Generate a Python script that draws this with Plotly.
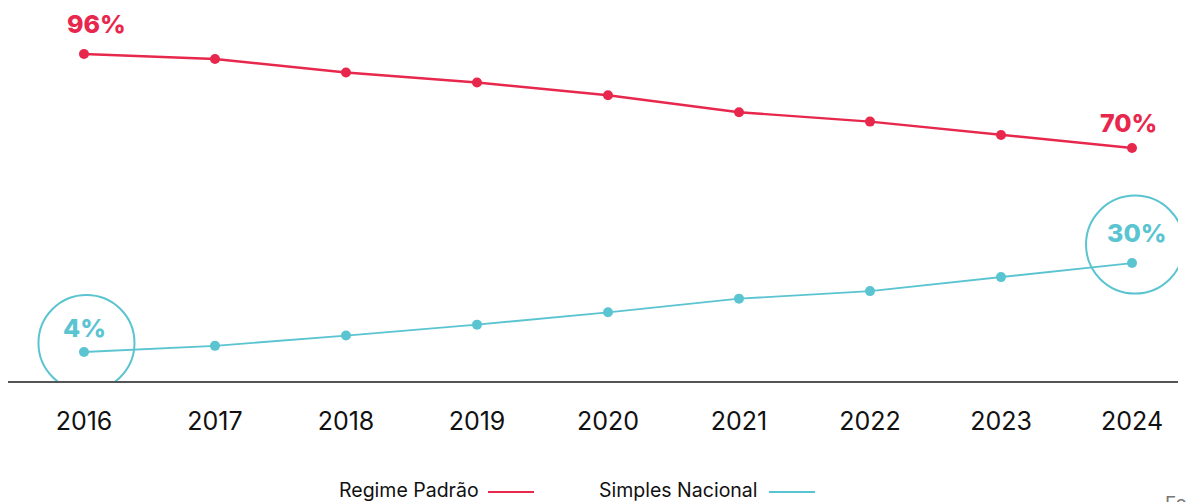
import plotly.graph_objects as go

years = [2016, 2017, 2018, 2019, 2020, 2021, 2022, 2023, 2024]
regime_padrao = [96, 94.6, 90.9, 88.1, 84.6, 79.9, 77.3, 73.6, 70]
simples_nacional = [4, 5.8, 8.8, 12.0, 15.6, 19.6, 21.8, 25.9, 30]
tick_labels = [str(y) for y in years]

RED = "#E8274D"
TEAL = "#5BC4D1"
FONT = "Inter"

fig = go.Figure()
fig.add_trace(go.Scatter(x=years, y=regime_padrao, mode="lines+markers", name="Regime Padrão",
                         line=dict(color=RED, width=2.4), marker=dict(size=10, color=RED),
                         yaxis="y", showlegend=False, hoverinfo="skip"))
fig.add_trace(go.Scatter(x=years, y=simples_nacional, mode="lines+markers", name="Simples Nacional",
                         line=dict(color=TEAL, width=1.9), marker=dict(size=10, color=TEAL),
                         yaxis="y2", showlegend=False, hoverinfo="skip"))

ann = []
def val_label(x, y, text, color, yref, xs, ys):
    ann.append(dict(x=x, y=y, xref="x", yref=yref, text=text, showarrow=False,
                    font=dict(family=FONT, size=25, color=color, weight=800), xshift=xs, yshift=ys))

val_label(years[0], regime_padrao[0], "%d%%" % regime_padrao[0], RED, "y", 13, 30)
val_label(years[-1], regime_padrao[-1], "%d%%" % regime_padrao[-1], RED, "y", -4, 25)
val_label(years[0], simples_nacional[0], "%d%%" % simples_nacional[0], TEAL, "y2", 1, 24)
val_label(years[-1], simples_nacional[-1], "%d%%" % simples_nacional[-1], TEAL, "y2", 4, 30)

def py(px):
    return (381 - px) / 371.0
def pxx(px):
    return (px - 8) / 1170.0

# legend (text before line)
ann.append(dict(x=pxx(481), y=py(490), xref="paper", yref="paper", xanchor="right", yanchor="middle",
                text="Regime Padrão", showarrow=False, font=dict(family=FONT, size=19.5, color="#111")))
ann.append(dict(x=pxx(760), y=py(490), xref="paper", yref="paper", xanchor="right", yanchor="middle",
                text="Simples Nacional", showarrow=False, font=dict(family=FONT, size=19.5, color="#111")))
ann.append(dict(x=pxx(1163), y=py(504), xref="paper", yref="paper", xanchor="left", yanchor="middle",
                text="Fonte:", showarrow=False, font=dict(family=FONT, size=19, color="#777")))

shapes = [
    dict(type="line", xref="paper", yref="paper", x0=pxx(488), x1=pxx(534), y0=py(492), y1=py(492),
         line=dict(color=RED, width=2)),
    dict(type="line", xref="paper", yref="paper", x0=pxx(769), x1=pxx(815), y0=py(492), y1=py(492),
         line=dict(color=TEAL, width=2)),
    dict(type="circle", xref="x", yref="y2", xsizemode="pixel", ysizemode="pixel",
         xanchor=years[0], yanchor=simples_nacional[0], x0=2.5 - 48, x1=2.5 + 48, y0=9 - 48, y1=9 + 48,
         line=dict(color=TEAL, width=2)),
    dict(type="circle", xref="x", yref="y2", xsizemode="pixel", ysizemode="pixel",
         xanchor=years[-1], yanchor=simples_nacional[-1], x0=3 - 49, x1=3 + 49, y0=18.5 - 49, y1=18.5 + 49,
         line=dict(color=TEAL, width=2)),
]

fig.update_layout(
    width=1186, height=502,
    margin=dict(l=8, r=8, t=10, b=121),
    paper_bgcolor="white", plot_bgcolor="white",
    xaxis=dict(range=[2015.42, 2024.351], tickvals=years, ticktext=tick_labels, showgrid=False,
               zeroline=False, showline=True, linecolor="#555", linewidth=1.5, ticks="",
               tickfont=dict(family=FONT, size=25, color="#111"), ticklabelstandoff=17),
    yaxis=dict(range=[5.54, 108.17], visible=False, showgrid=False, zeroline=False),
    yaxis2=dict(range=[-4.48, 104], visible=False, overlaying="y", showgrid=False, zeroline=False),
    annotations=ann, shapes=shapes,
)

fig.write_html("out.html", config={"displayModeBar": False},
               post_script="document.body.style.margin='0px';document.body.style.overflow='hidden';")
